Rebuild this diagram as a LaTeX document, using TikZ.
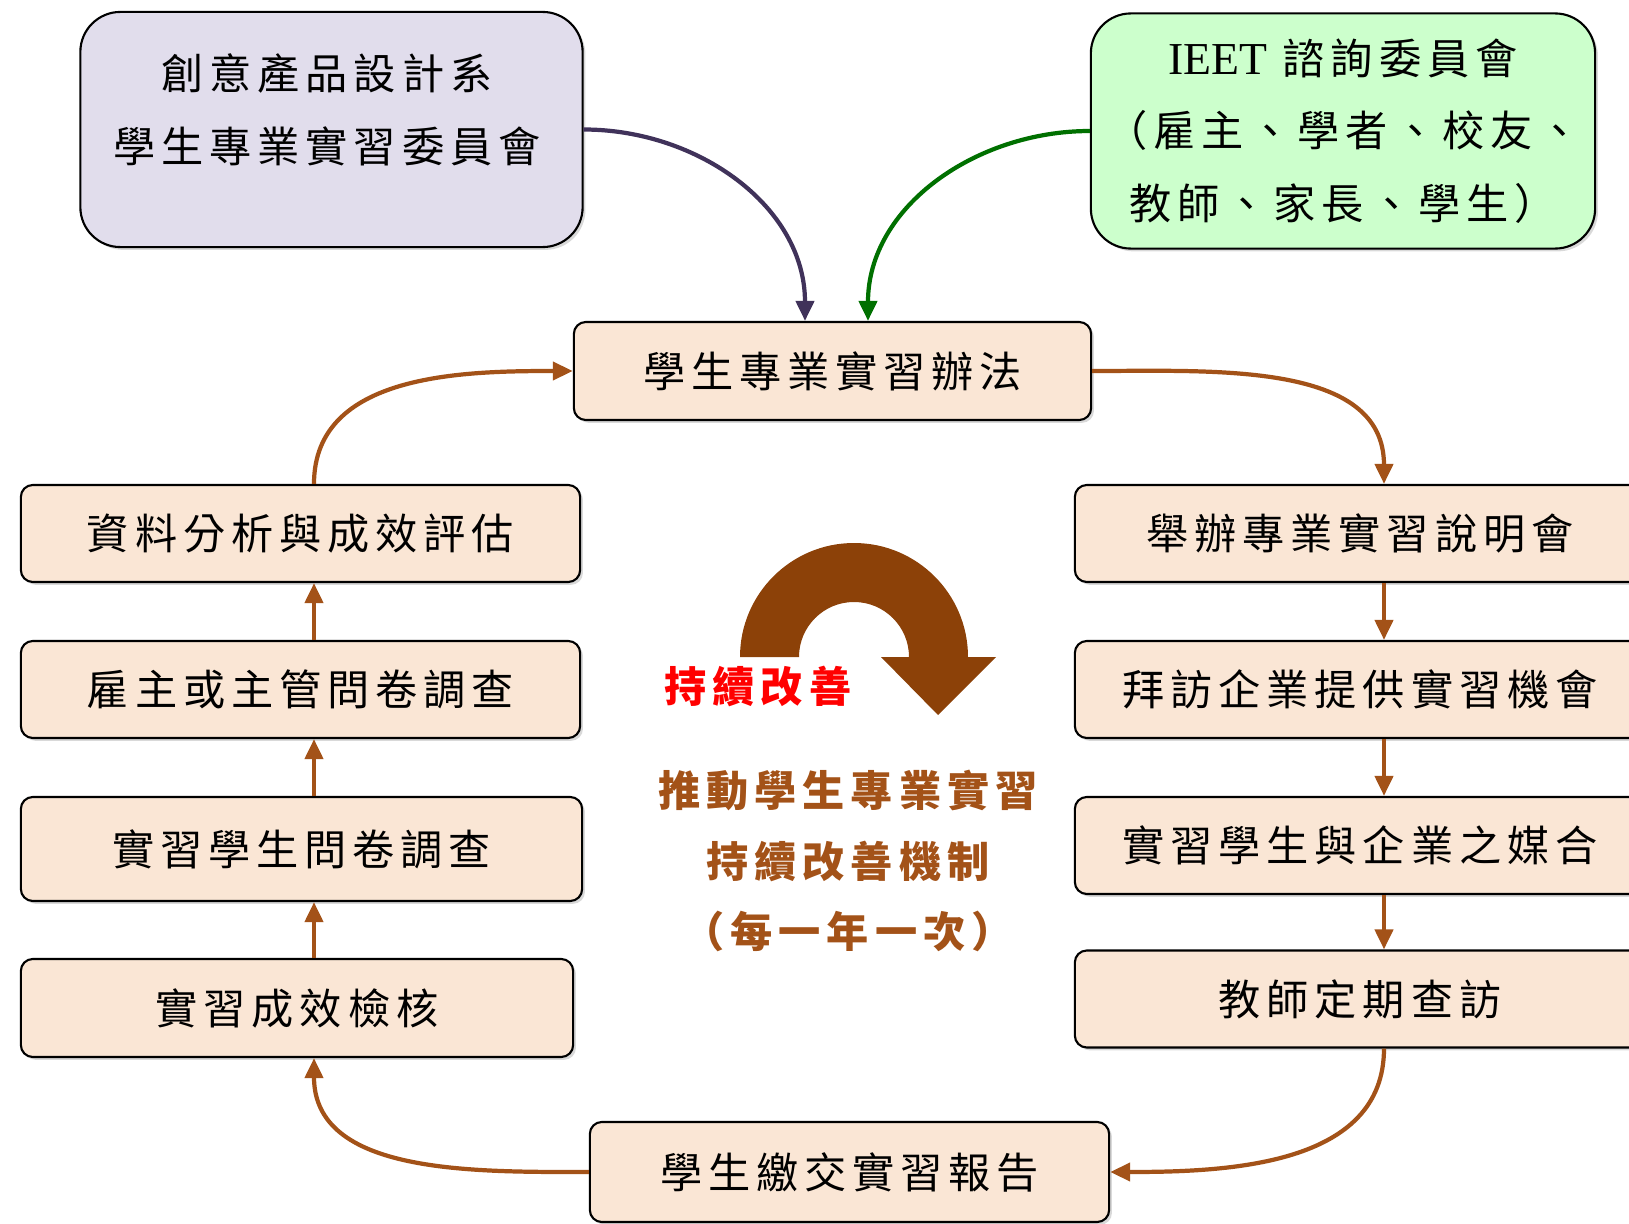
\documentclass[tikz,border=0pt]{standalone}
\usepackage{fontspec}
\setmainfont{Liberation Serif}
\newfontfamily\cjk[LetterSpace=14]{Noto Sans CJK TC}
\usetikzlibrary{arrows.meta,calc,shadows}

\definecolor{flowbrown}{RGB}{163,82,24}
\definecolor{loopbrown}{RGB}{140,65,8}
\definecolor{stagefill}{RGB}{250,230,213}
\definecolor{deptfill}{RGB}{225,221,236}
\definecolor{ieetfill}{RGB}{204,255,204}
\definecolor{deptline}{RGB}{64,50,90}
\definecolor{ieetline}{RGB}{0,112,0}

\begin{document}
\begin{tikzpicture}[
    x=0.01cm, y=0.01cm,
    every node/.style={font=\cjk\fontsize{12}{20.7}\selectfont},
    stage/.style={rectangle, rounded corners=0.12cm, draw, line width=0.6pt, fill=stagefill,
      minimum width=5.59cm, minimum height=0.97cm,
      drop shadow={shadow xshift=0.8pt, shadow yshift=-0.8pt, opacity=0.3}},
    panel/.style={rectangle, rounded corners=0.4cm, draw, line width=0.6pt, align=center,
      minimum width=5.02cm, minimum height=2.35cm,
      drop shadow={shadow xshift=0.8pt, shadow yshift=-0.8pt, opacity=0.3}},
    flow/.style={-{Triangle[length=0.2cm, width=0.18cm]}, line width=1.2pt, draw=flowbrown},
    feed/.style={-{Triangle[length=0.2cm, width=0.18cm]}, line width=1.2pt}
  ]
  \useasboundingbox (0,0) rectangle (1629,-1224);

  % Committees
  \node[panel, fill=deptfill] (dept) at (331.5,-129.5) {};
  \node[align=center] (deptname) at (327,-110) {創意產品設計系\\學生專業實習委員會};
  \node[panel, fill=ieetfill, minimum width=5.04cm] (ieet) at (1343,-131)
    {{\normalfont\fontsize{13}{20.7}\selectfont IEET} 諮詢委員會\\（雇主、學者、校友、\\教師、家長、學生）};

  % Rules
  \node[stage, minimum width=5.17cm, minimum height=0.98cm] (rule) at (832.5,-371) {學生專業實習辦法};

  % Right column
  \node[stage, minimum width=5.7cm] (r1) at (1360,-533.5) {舉辦專業實習說明會};
  \node[stage, minimum width=5.7cm] (r2) at (1360,-689.5) {拜訪企業提供實習機會};
  \node[stage, minimum width=5.7cm] (r3) at (1360,-845.5) {實習學生與企業之媒合};
  \node[stage, minimum width=5.7cm] (r4) at (1360,-999) {教師定期查訪};

  % Report
  \node[stage, minimum width=5.19cm, minimum height=1.0cm] (report) at (849.5,-1172) {學生繳交實習報告};

  % Left column
  \node[stage] (l1) at (300.5,-533.5) {資料分析與成效評估};
  \node[stage] (l2) at (300.5,-689.5) {雇主或主管問卷調查};
  \node[stage, minimum width=5.61cm, minimum height=1.04cm] (l3) at (301.5,-849) {實習學生問卷調查};
  \node[stage, minimum width=5.52cm, minimum height=0.98cm] (l4) at (297,-1008) {實習成效檢核};

  % Spines
  \coordinate (lspine) at (314,0);
  \coordinate (rspine) at (1384,0);
  \coordinate (deptin) at (805,0);
  \coordinate (ieetin) at (868,0);

  % Feeds into the rules
  \draw[feed, draw=deptline] (dept.east) to[out=0, in=90] (rule.north -| deptin);
  \draw[feed, draw=ieetline] (ieet.west) to[out=180, in=90] (rule.north -| ieetin);

  % Cycle
  \draw[flow] (rule.east) to[out=0, in=90] (r1.north -| rspine);
  \draw[flow] (r1.south -| rspine) -- (r2.north -| rspine);
  \draw[flow] (r2.south -| rspine) -- (r3.north -| rspine);
  \draw[flow] (r3.south -| rspine) -- (r4.north -| rspine);
  \draw[flow] (r4.south -| rspine) to[out=-90, in=0] (report.east);
  \draw[flow] (report.west) to[out=180, in=-90] (l4.south -| lspine);
  \draw[flow] (l4.north -| lspine) -- (l3.south -| lspine);
  \draw[flow] (l3.north -| lspine) -- (l2.south -| lspine);
  \draw[flow] (l2.north -| lspine) -- (l1.south -| lspine);
  \draw[flow] (l1.north -| lspine) to[out=90, in=180] (rule.west);

  % Loop sign
  \fill[loopbrown] (740,-657) arc[start angle=180, end angle=0, radius=114]
    -- (996,-657) -- (938,-715) -- (881,-657) -- (909,-657)
    arc[start angle=0, end angle=180, radius=55] -- cycle;
  \node[text=red, font=\cjk\bfseries\fontsize{12}{20.7}\selectfont] (improve) at (758,-686) {持續改善};
  \node[text=flowbrown, align=center, font=\cjk\bfseries\fontsize{12}{20.1}\selectfont] (mechanism) at (848,-861)
    {推動學生專業實習\\持續改善機制\\（每一年一次）};
\end{tikzpicture}
\end{document}
